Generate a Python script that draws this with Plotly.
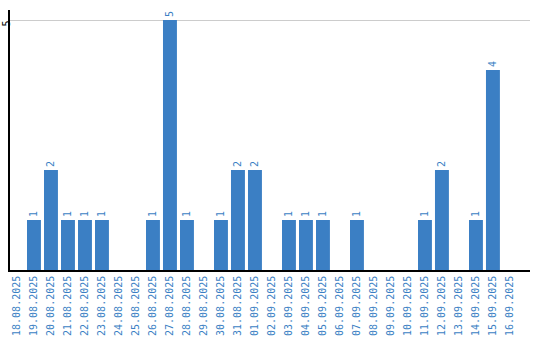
import plotly.graph_objects as go

dates = ["18.08.2025", "19.08.2025", "20.08.2025", "21.08.2025", "22.08.2025", "23.08.2025",
         "24.08.2025", "25.08.2025", "26.08.2025", "27.08.2025", "28.08.2025", "29.08.2025",
         "30.08.2025", "31.08.2025", "01.09.2025", "02.09.2025", "03.09.2025", "04.09.2025",
         "05.09.2025", "06.09.2025", "07.09.2025", "08.09.2025", "09.09.2025", "10.09.2025",
         "11.09.2025", "12.09.2025", "13.09.2025", "14.09.2025", "15.09.2025", "16.09.2025"]
counts = [0, 1, 2, 1, 1, 1, 0, 0, 1, 5, 1, 0, 1, 2, 2, 0, 1, 1, 1, 0, 1, 0, 0, 0, 1, 2, 0, 1, 4, 0]

blue = "#3b7fc4"
labels = [str(v) if v > 0 else "" for v in counts]

fig = go.Figure(go.Bar(
    x=dates, y=counts, marker_color=blue, marker_line_width=0,
    text=labels, textposition="outside", textangle=-90,
    textfont=dict(family="DejaVu Sans Mono", size=10, color=blue),
    cliponaxis=False, hoverinfo="skip",
))

fig.update_layout(
    width=540, height=340,
    margin=dict(l=10, r=10, t=10, b=70),
    plot_bgcolor="white", paper_bgcolor="white",
    bargap=0.18, showlegend=False,
    font=dict(family="DejaVu Sans Mono", size=10),
)
fig.update_xaxes(
    type="category", range=[-0.41, 30.18], automargin=False,
    tickangle=-90, tickfont=dict(family="DejaVu Sans Mono", size=10, color=blue),
    showline=True, linecolor="black", linewidth=1.5, ticks="", showgrid=False,
)
fig.update_yaxes(
    range=[0, 5.2], tickvals=[5], ticktext=["5"], tickangle=-90, automargin=False,
    tickfont=dict(family="DejaVu Sans Mono", size=10, color="black"),
    showline=True, linecolor="black", linewidth=1.5, ticks="",
    ticklabelstandoff=-6, ticklabelshift=5,
    showgrid=True, gridcolor="#cccccc", gridwidth=1, zeroline=False,
)

fig.write_html("out.html")
